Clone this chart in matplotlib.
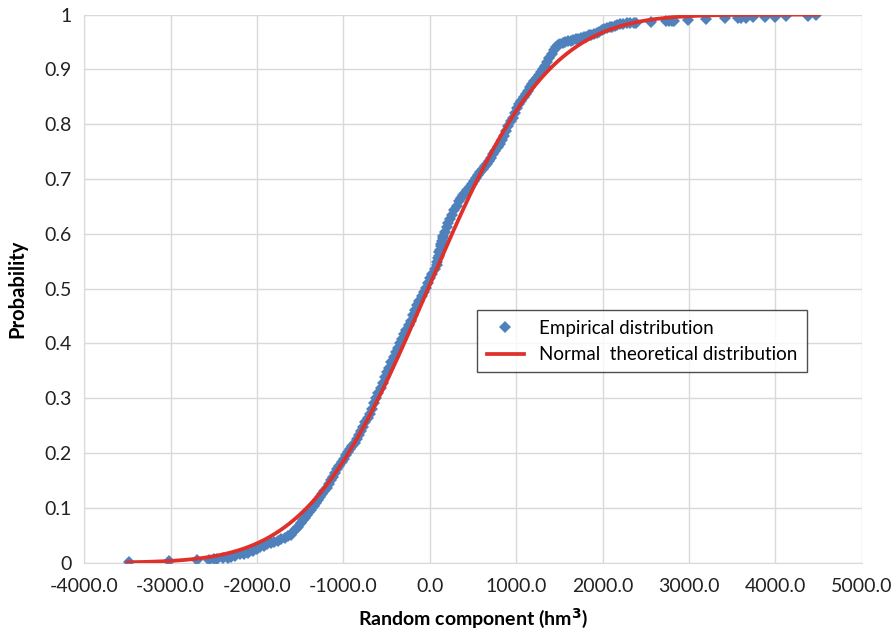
import math
import numpy as np
import matplotlib
matplotlib.use("Agg")
import matplotlib.pyplot as plt

plt.rcParams['font.family'] = ['Lato', 'DejaVu Sans']

# Empirical distribution
emp_x = [-3475, -3020, -2695, -2560, -2500, -2460, -2390, -2340, -2300, -2250,
         -2200, -2150, -2100, -2050, -2000, -1960, -1920, -1880, -1840, -1800,
         -1760, -1720, -1680, -1640, -1610, -1580, -1550, -1520, -1495, -1470,
         -1445, -1420, -1395, -1370, -1345, -1320, -1295, -1270, -1245, -1220,
         -1195, -1170, -1145, -1120, -1095, -1070, -1045, -1020,
         -995, -970, -945, -920, -895, -870, -845, -820, -795, -770,
         -745, -720, -695, -670, -645, -620, -595, -570, -545, -520,
         -495, -470, -445, -420, -395, -370, -345, -320, -295, -270,
         -245, -220, -195, -170, -145, -120, -95, -70, -45, -20,
         5, 30, 55, 80, 88, 95, 102, 110, 118, 125, 132, 140, 148, 155, 175,
         195, 215, 235, 260, 285, 310, 335, 360, 385, 410,
         435, 460, 485, 510, 535, 560, 585, 610, 635, 660,
         685, 710, 735, 760, 785, 810, 835, 860, 885, 910,
         935, 960, 985, 1010, 1035, 1060, 1085, 1110, 1135, 1160,
         1185, 1210, 1235, 1260, 1285, 1310, 1335, 1360, 1385, 1410,
         1435, 1460, 1485, 1510, 1540, 1570, 1600, 1630, 1660, 1690,
         1720, 1750, 1780, 1810, 1840, 1870, 1900, 1930, 1960, 1990,
         2020, 2050, 2080, 2110, 2140, 2170, 2200, 2240, 2280, 2320,
         2360, 2390, 2560, 2730, 2770, 2800, 2830, 2985, 3195, 3420,
         3570, 3600, 3660, 3735, 3875, 3995, 4125, 4380, 4465]
emp_p = [0.001, 0.003, 0.005, 0.004, 0.006, 0.006, 0.008, 0.009, 0.010, 0.012,
         0.015, 0.016, 0.018, 0.021, 0.025, 0.028, 0.031, 0.034, 0.036, 0.038,
         0.040, 0.043, 0.045, 0.048, 0.051, 0.056, 0.061, 0.066, 0.072, 0.077,
         0.082, 0.087, 0.092, 0.097, 0.103, 0.109, 0.115, 0.120, 0.125, 0.130,
         0.137, 0.144, 0.151, 0.157, 0.164, 0.170, 0.177, 0.183,
         0.190, 0.196, 0.202, 0.208, 0.213, 0.219, 0.226, 0.233, 0.240, 0.248,
         0.256, 0.264, 0.272, 0.281, 0.291, 0.300, 0.309, 0.318, 0.328, 0.338,
         0.347, 0.356, 0.366, 0.375, 0.384, 0.392, 0.400, 0.409, 0.417, 0.425,
         0.433, 0.441, 0.451, 0.461, 0.470, 0.478, 0.486, 0.494, 0.502, 0.511,
         0.519, 0.527, 0.535, 0.544, 0.549, 0.555, 0.560, 0.566, 0.571, 0.577,
         0.582, 0.587, 0.592, 0.596, 0.604,
         0.612, 0.620, 0.627, 0.635, 0.643, 0.651, 0.659, 0.665, 0.670, 0.675,
         0.680, 0.686, 0.691, 0.696, 0.701, 0.707, 0.713, 0.718, 0.723, 0.728,
         0.733, 0.739, 0.746, 0.752, 0.758, 0.764, 0.771, 0.779, 0.788, 0.797,
         0.805, 0.812, 0.820, 0.829, 0.837, 0.843, 0.849, 0.855, 0.861, 0.867,
         0.873, 0.879, 0.885, 0.890, 0.895, 0.900, 0.907, 0.914, 0.921, 0.928,
         0.935, 0.941, 0.944, 0.946, 0.948, 0.950, 0.951, 0.952, 0.953, 0.955,
         0.956, 0.957, 0.959, 0.960, 0.962, 0.963, 0.965, 0.967, 0.969, 0.971,
         0.973, 0.975, 0.977, 0.978, 0.980, 0.981, 0.982, 0.983, 0.984, 0.984,
         0.985, 0.985, 0.987, 0.988, 0.989, 0.989, 0.988, 0.991, 0.992, 0.993,
         0.994, 0.994, 0.994, 0.995, 0.996, 0.996, 0.997, 0.998, 0.999]

# Normal theoretical distribution parameters
mu = -20.0
sigma = 1095.0
x_min, x_max = -3500, 4500

xt = np.linspace(x_min, x_max, 400)
pt = [0.5 * (1 + math.erf((v - mu) / (sigma * math.sqrt(2)))) for v in xt]

fig = plt.figure(figsize=(8.95, 6.34), dpi=100)
ax = fig.add_axes([0.094, 0.1125, 0.869, 0.8645])

ax.plot(emp_x, emp_p, linestyle='none', marker='D', markersize=5.8,
        color='#4f81bd', markeredgewidth=0, label='Empirical distribution', zorder=3)
ax.plot(xt, pt, color='#e0302a', linewidth=2.7, label='Normal  theoretical distribution', zorder=4)

ax.set_xlim(-4000, 5000)
ax.set_ylim(0, 1)
ax.set_xticks(np.arange(-4000, 5001, 1000))
ax.set_xticklabels([f"{v:.1f}" for v in np.arange(-4000, 5001, 1000)])
ax.set_yticks(np.arange(0, 1.01, 0.1))
ax.set_yticklabels(['0'] + [f"{v:.1f}" for v in np.arange(0.1, 0.95, 0.1)] + ['1'])
ax.tick_params(length=0, labelsize=14, colors='#222222')
ax.tick_params(axis='x', pad=11)
ax.tick_params(axis='y', pad=9)

ax.grid(True, color='#d9d9d9', linewidth=1)
ax.set_axisbelow(True)
for s in ['top', 'right']:
    ax.spines[s].set_visible(False)
for s in ['left', 'bottom']:
    ax.spines[s].set_color('#d9d9d9')

ax.set_xlabel('Random component (hm$^\\mathbf{3}$)', fontsize=14, fontweight='bold', labelpad=8)
ax.set_ylabel('Probability', fontsize=14.5, fontweight='bold', labelpad=12)

leg = ax.legend(loc='upper left', bbox_to_anchor=(0.4935, 0.4775), fontsize=13.5,
                frameon=True, fancybox=False, borderpad=0.5, handlelength=2.0,
                labelspacing=0.5, markerscale=1.0)
leg.get_frame().set_edgecolor('#222222')
leg.get_frame().set_linewidth(1)

fig.savefig('out.png', dpi=100)
